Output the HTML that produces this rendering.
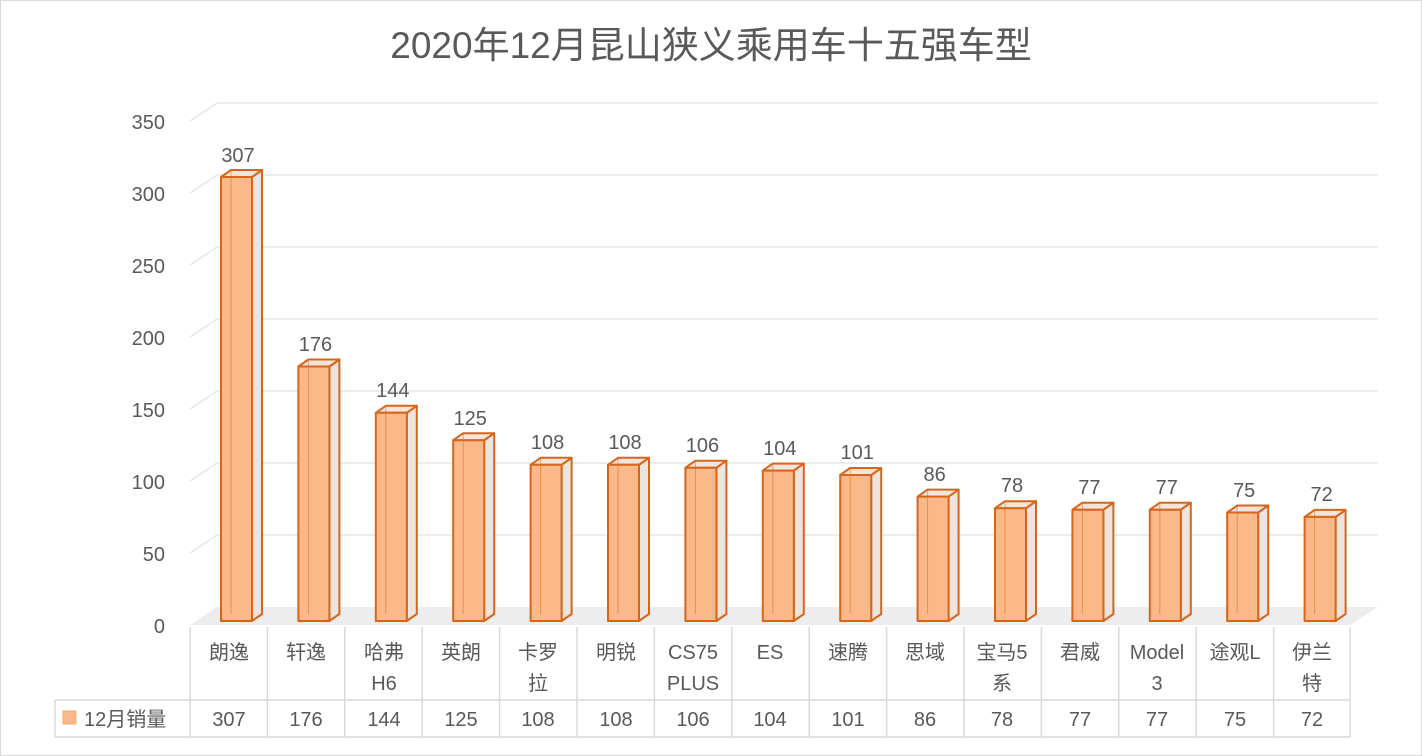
<!DOCTYPE html>
<html><head><meta charset="utf-8"><style>
body{margin:0;background:#fff}
svg{display:block;font-family:"Liberation Sans","Noto Sans CJK SC",sans-serif}
</style></head><body>
<svg width="1422" height="756" viewBox="0 0 1422 756">
<rect x="0.5" y="0.5" width="1421" height="755" fill="#fff" stroke="#D9D9D9"/>
<text x="711" y="58" text-anchor="middle" font-size="37" fill="#595959">2020年12月昆山狭义乘用车十五强车型</text>
<polygon points="190,625 217,607 1378,607 1350,625" fill="#EDEDED"/>
<g stroke="#E6E6E6" stroke-width="1.5" fill="none">
<polyline points="190,553 217,535 1378,535"/>
<polyline points="190,481 217,463 1378,463"/>
<polyline points="190,409 217,391 1378,391"/>
<polyline points="190,337 217,319 1378,319"/>
<polyline points="190,265 217,247 1378,247"/>
<polyline points="190,193 217,175 1378,175"/>
<polyline points="190,121 217,103 1378,103"/>
</g>
<g font-size="20" fill="#595959" text-anchor="end">
<text x="165" y="633">0</text><text x="165" y="561">50</text><text x="165" y="489">100</text>
<text x="165" y="417">150</text><text x="165" y="345">200</text><text x="165" y="273">250</text>
<text x="165" y="201">300</text><text x="165" y="129">350</text>
</g>
<g stroke="#D5661C" stroke-width="2" stroke-linejoin="round">
<g transform="translate(221,0)"><polygon points="31,177 41,170 41,614 31,621" fill="#EEE4DF"/><polygon points="0,177 10,170 41,170 31,177" fill="#F4E4DA"/><rect x="0" y="177" width="31" height="444" fill="#FBB98A"/><line x1="10" y1="170" x2="10" y2="614" stroke-width="1" opacity=".5"/></g>
<g transform="translate(298.4,0)"><polygon points="31,366.5 41,359.5 41,614 31,621" fill="#EEE4DF"/><polygon points="0,366.5 10,359.5 41,359.5 31,366.5" fill="#F4E4DA"/><rect x="0" y="366.5" width="31" height="254.5" fill="#FBB98A"/><line x1="10" y1="359.5" x2="10" y2="614" stroke-width="1" opacity=".5"/></g>
<g transform="translate(375.8,0)"><polygon points="31,412.8 41,405.8 41,614 31,621" fill="#EEE4DF"/><polygon points="0,412.8 10,405.8 41,405.8 31,412.8" fill="#F4E4DA"/><rect x="0" y="412.8" width="31" height="208.2" fill="#FBB98A"/><line x1="10" y1="405.8" x2="10" y2="614" stroke-width="1" opacity=".5"/></g>
<g transform="translate(453.2,0)"><polygon points="31,440.2 41,433.2 41,614 31,621" fill="#EEE4DF"/><polygon points="0,440.2 10,433.2 41,433.2 31,440.2" fill="#F4E4DA"/><rect x="0" y="440.2" width="31" height="180.8" fill="#FBB98A"/><line x1="10" y1="433.2" x2="10" y2="614" stroke-width="1" opacity=".5"/></g>
<g transform="translate(530.6,0)"><polygon points="31,464.8 41,457.8 41,614 31,621" fill="#EEE4DF"/><polygon points="0,464.8 10,457.8 41,457.8 31,464.8" fill="#F4E4DA"/><rect x="0" y="464.8" width="31" height="156.2" fill="#FBB98A"/><line x1="10" y1="457.8" x2="10" y2="614" stroke-width="1" opacity=".5"/></g>
<g transform="translate(608,0)"><polygon points="31,464.8 41,457.8 41,614 31,621" fill="#EEE4DF"/><polygon points="0,464.8 10,457.8 41,457.8 31,464.8" fill="#F4E4DA"/><rect x="0" y="464.8" width="31" height="156.2" fill="#FBB98A"/><line x1="10" y1="457.8" x2="10" y2="614" stroke-width="1" opacity=".5"/></g>
<g transform="translate(685.4,0)"><polygon points="31,467.7 41,460.7 41,614 31,621" fill="#EEE4DF"/><polygon points="0,467.7 10,460.7 41,460.7 31,467.7" fill="#F4E4DA"/><rect x="0" y="467.7" width="31" height="153.3" fill="#FBB98A"/><line x1="10" y1="460.7" x2="10" y2="614" stroke-width="1" opacity=".5"/></g>
<g transform="translate(762.8,0)"><polygon points="31,470.6 41,463.6 41,614 31,621" fill="#EEE4DF"/><polygon points="0,470.6 10,463.6 41,463.6 31,470.6" fill="#F4E4DA"/><rect x="0" y="470.6" width="31" height="150.4" fill="#FBB98A"/><line x1="10" y1="463.6" x2="10" y2="614" stroke-width="1" opacity=".5"/></g>
<g transform="translate(840.2,0)"><polygon points="31,475 41,468 41,614 31,621" fill="#EEE4DF"/><polygon points="0,475 10,468 41,468 31,475" fill="#F4E4DA"/><rect x="0" y="475" width="31" height="146" fill="#FBB98A"/><line x1="10" y1="468" x2="10" y2="614" stroke-width="1" opacity=".5"/></g>
<g transform="translate(917.6,0)"><polygon points="31,496.6 41,489.6 41,614 31,621" fill="#EEE4DF"/><polygon points="0,496.6 10,489.6 41,489.6 31,496.6" fill="#F4E4DA"/><rect x="0" y="496.6" width="31" height="124.4" fill="#FBB98A"/><line x1="10" y1="489.6" x2="10" y2="614" stroke-width="1" opacity=".5"/></g>
<g transform="translate(995,0)"><polygon points="31,508.2 41,501.2 41,614 31,621" fill="#EEE4DF"/><polygon points="0,508.2 10,501.2 41,501.2 31,508.2" fill="#F4E4DA"/><rect x="0" y="508.2" width="31" height="112.8" fill="#FBB98A"/><line x1="10" y1="501.2" x2="10" y2="614" stroke-width="1" opacity=".5"/></g>
<g transform="translate(1072.4,0)"><polygon points="31,509.7 41,502.7 41,614 31,621" fill="#EEE4DF"/><polygon points="0,509.7 10,502.7 41,502.7 31,509.7" fill="#F4E4DA"/><rect x="0" y="509.7" width="31" height="111.3" fill="#FBB98A"/><line x1="10" y1="502.7" x2="10" y2="614" stroke-width="1" opacity=".5"/></g>
<g transform="translate(1149.8,0)"><polygon points="31,509.7 41,502.7 41,614 31,621" fill="#EEE4DF"/><polygon points="0,509.7 10,502.7 41,502.7 31,509.7" fill="#F4E4DA"/><rect x="0" y="509.7" width="31" height="111.3" fill="#FBB98A"/><line x1="10" y1="502.7" x2="10" y2="614" stroke-width="1" opacity=".5"/></g>
<g transform="translate(1227.2,0)"><polygon points="31,512.5 41,505.5 41,614 31,621" fill="#EEE4DF"/><polygon points="0,512.5 10,505.5 41,505.5 31,512.5" fill="#F4E4DA"/><rect x="0" y="512.5" width="31" height="108.5" fill="#FBB98A"/><line x1="10" y1="505.5" x2="10" y2="614" stroke-width="1" opacity=".5"/></g>
<g transform="translate(1304.6,0)"><polygon points="31,516.9 41,509.9 41,614 31,621" fill="#EEE4DF"/><polygon points="0,516.9 10,509.9 41,509.9 31,516.9" fill="#F4E4DA"/><rect x="0" y="516.9" width="31" height="104.1" fill="#FBB98A"/><line x1="10" y1="509.9" x2="10" y2="614" stroke-width="1" opacity=".5"/></g>
</g>
<g font-size="20" fill="#595959" text-anchor="middle">
<text x="238" y="162">307</text><text x="315.4" y="351">176</text><text x="392.8" y="397">144</text>
<text x="470.2" y="425">125</text><text x="547.6" y="449">108</text><text x="625" y="449">108</text>
<text x="702.4" y="452">106</text><text x="779.8" y="455">104</text><text x="857.2" y="459">101</text>
<text x="934.6" y="481">86</text><text x="1012" y="492">78</text><text x="1089.4" y="494">77</text>
<text x="1166.8" y="494">77</text><text x="1244.2" y="497">75</text><text x="1321.6" y="501">72</text>
</g>
<g stroke="#D9D9D9" stroke-width="1.5">
<line x1="55" y1="700" x2="1350" y2="700"/><line x1="55" y1="737" x2="1350" y2="737"/>
<line x1="55" y1="700" x2="55" y2="737"/>
<line x1="190" y1="627" x2="190" y2="737"/><line x1="267.4" y1="627" x2="267.4" y2="737"/>
<line x1="344.8" y1="627" x2="344.8" y2="737"/><line x1="422.2" y1="627" x2="422.2" y2="737"/>
<line x1="499.6" y1="627" x2="499.6" y2="737"/><line x1="577" y1="627" x2="577" y2="737"/>
<line x1="654.4" y1="627" x2="654.4" y2="737"/><line x1="731.8" y1="627" x2="731.8" y2="737"/>
<line x1="809.2" y1="627" x2="809.2" y2="737"/><line x1="886.6" y1="627" x2="886.6" y2="737"/>
<line x1="964" y1="627" x2="964" y2="737"/><line x1="1041.4" y1="627" x2="1041.4" y2="737"/>
<line x1="1118.8" y1="627" x2="1118.8" y2="737"/><line x1="1196.2" y1="627" x2="1196.2" y2="737"/>
<line x1="1273.6" y1="627" x2="1273.6" y2="737"/><line x1="1350" y1="627" x2="1350" y2="737"/>
</g>
<g font-size="20" fill="#595959" text-anchor="middle">
<text x="229" y="659">朗逸</text><text x="306" y="659">轩逸</text>
<text x="384" y="659">哈弗</text><text x="384" y="690">H6</text>
<text x="461" y="659">英朗</text>
<text x="538" y="659">卡罗</text><text x="538" y="690">拉</text>
<text x="616" y="659">明锐</text>
<text x="693" y="659">CS75</text><text x="693" y="690">PLUS</text>
<text x="770" y="659">ES</text><text x="848" y="659">速腾</text><text x="925" y="659">思域</text>
<text x="1002" y="659">宝马5</text><text x="1002" y="690">系</text>
<text x="1080" y="659">君威</text>
<text x="1157" y="659">Model</text><text x="1157" y="690">3</text>
<text x="1235" y="659">途观L</text>
<text x="1312" y="659">伊兰</text><text x="1312" y="690">特</text>
<text x="229" y="726">307</text><text x="306" y="726">176</text><text x="384" y="726">144</text>
<text x="461" y="726">125</text><text x="538" y="726">108</text><text x="616" y="726">108</text>
<text x="693" y="726">106</text><text x="770" y="726">104</text><text x="848" y="726">101</text>
<text x="925" y="726">86</text><text x="1002" y="726">78</text><text x="1080" y="726">77</text>
<text x="1157" y="726">77</text><text x="1235" y="726">75</text><text x="1312" y="726">72</text>
</g>
<rect x="63" y="711" width="13" height="13" fill="#FBB98A" stroke="#F5A870"/>
<text x="84" y="726" font-size="20" fill="#595959">12月销量</text>
</svg>
</body></html>
